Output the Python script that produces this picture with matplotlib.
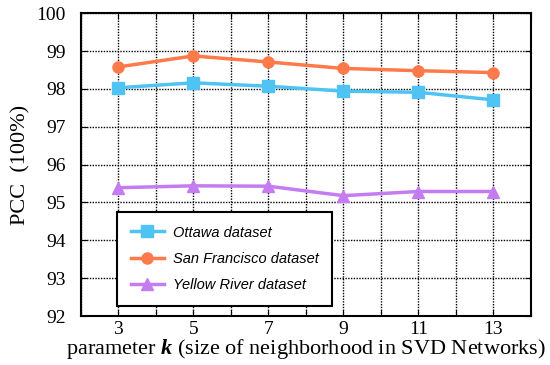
import matplotlib.pyplot as plt
import numpy as np

k = [3, 5, 7, 9, 11, 13]
ottawa = [98.03, 98.16, 98.07, 97.94, 97.91, 97.71]
san_francisco = [98.58, 98.87, 98.71, 98.54, 98.48, 98.43]
yellow_river = [95.39, 95.44, 95.43, 95.18, 95.29, 95.29]

plt.rcParams['font.family'] = 'Liberation Serif'
plt.rcParams['mathtext.fontset'] = 'custom'
plt.rcParams['mathtext.rm'] = 'Liberation Serif'
plt.rcParams['mathtext.it'] = 'Liberation Serif:italic'
plt.rcParams['mathtext.bf'] = 'Liberation Serif:bold'
plt.rcParams['mathtext.bfit'] = 'Liberation Serif:italic:bold'

fig = plt.figure(figsize=(5.5, 3.65), dpi=100)
ax = fig.add_axes([0.147, 0.134, 0.818, 0.830])

ax.plot(k, ottawa, color='#4fc3f3', marker='s', markersize=8, linewidth=2.5, label='Ottawa dataset')
ax.plot(k, san_francisco, color='#ff7a4a', marker='o', markersize=8, linewidth=2.5, label='San Francisco dataset')
ax.plot(k, yellow_river, color='#c47cf0', marker='^', markersize=8, linewidth=2.5, label='Yellow River dataset')

# grid on every integer, labels only on the k values
grid_x = np.arange(2, 15)
ax.set_xlim(2, 14)
ax.set_ylim(92, 100)
ax.set_xticks(grid_x)
ax.set_xticklabels([str(v) if v in k else '' for v in grid_x])
ax.set_yticks(np.arange(92, 101))
ax.tick_params(which='both', direction='in', labelsize=14, length=4, top=True, right=True)
ax.tick_params(axis='y', pad=11)
ax.grid(True, color='black', linestyle=(0, (1, 1)), linewidth=1.0, snap=True)
ax.set_axisbelow(True)
for s in ax.spines.values():
    s.set_linewidth(1.5)

ax.set_ylabel('PCC  (100%)', fontsize=16, labelpad=4)
ax.set_xlabel(r'parameter $\mathbfit{k}$ (size of neighborhood in SVD Networks)', fontsize=16, labelpad=-1)

leg = ax.legend(loc='lower left', bbox_to_anchor=(0.08, 0.033), prop={'family': 'Liberation Sans', 'style': 'italic', 'size': 10.5},
                fancybox=False, framealpha=1, edgecolor='black', handlelength=2.3, borderpad=0.94,
                labelspacing=0.85, handletextpad=0.6, borderaxespad=0)
leg.get_frame().set_linewidth(1.5)

plt.savefig('out.png', dpi=100)
